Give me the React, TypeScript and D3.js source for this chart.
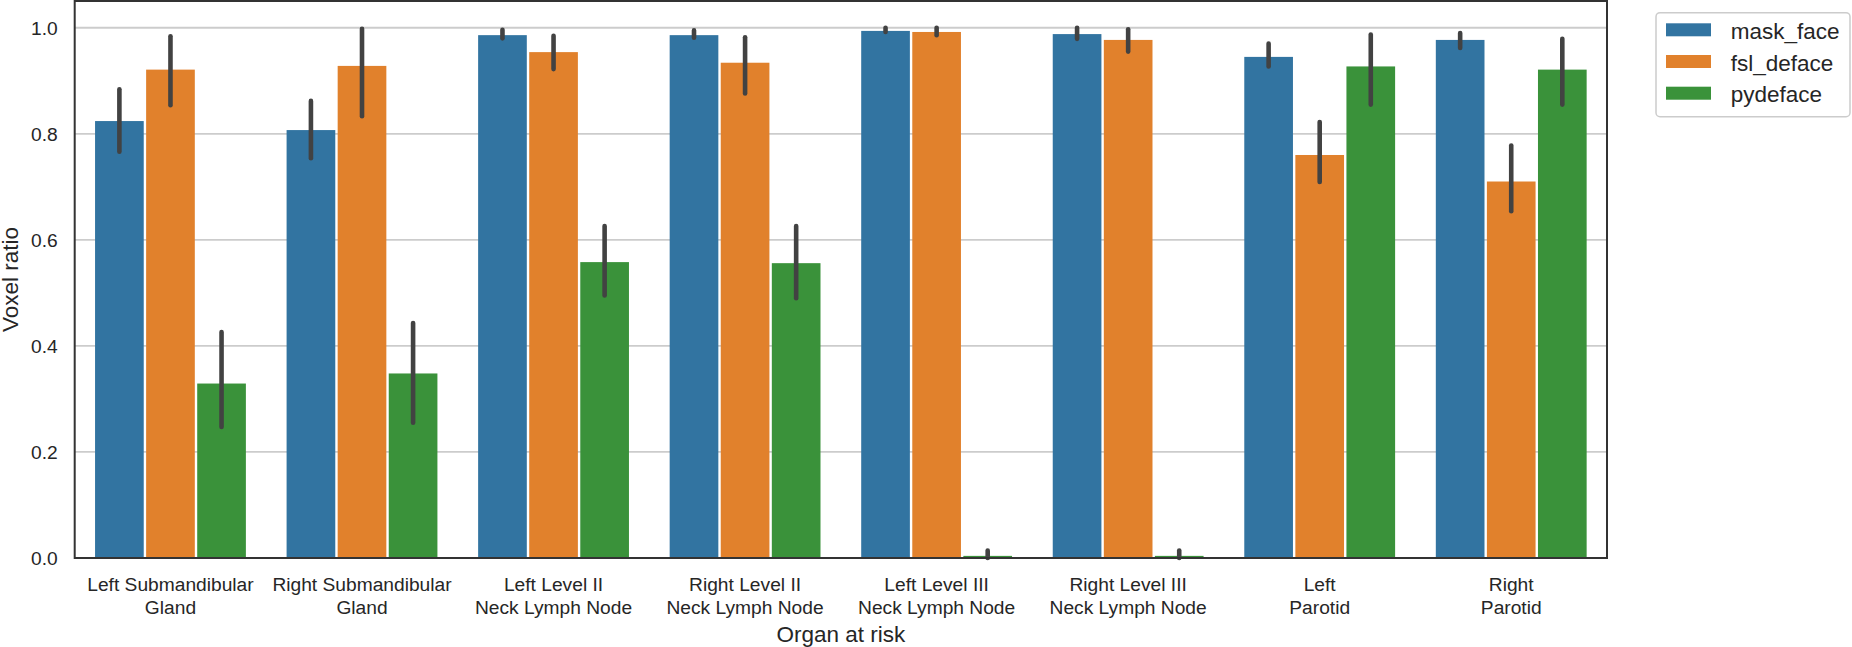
import React from "react";
import * as d3 from "d3";

const categories: string[][] = [
  ["Left Submandibular", "Gland"],
  ["Right Submandibular", "Gland"],
  ["Left Level II", "Neck Lymph Node"],
  ["Right Level II", "Neck Lymph Node"],
  ["Left Level III", "Neck Lymph Node"],
  ["Right Level III", "Neck Lymph Node"],
  ["Left", "Parotid"],
  ["Right", "Parotid"],
];

const seriesNames = ["mask_face", "fsl_deface", "pydeface"];
const seriesColors = ["#3274a1", "#e1812c", "#3a923a"];

const maskFace = [0.824, 0.807, 0.986, 0.986, 0.994, 0.988, 0.945, 0.977];
const maskFaceLo = [0.766, 0.754, 0.980, 0.981, 0.992, 0.979, 0.927, 0.962];
const maskFaceHi = [0.884, 0.862, 0.996, 0.995, 1.000, 1.000, 0.970, 0.990];

const fslDeface = [0.921, 0.928, 0.954, 0.934, 0.992, 0.977, 0.760, 0.710];
const fslDefaceLo = [0.854, 0.833, 0.922, 0.876, 0.986, 0.955, 0.709, 0.654];
const fslDefaceHi = [0.984, 0.998, 0.985, 0.982, 1.000, 0.997, 0.822, 0.778];

const pydeface = [0.329, 0.348, 0.558, 0.556, 0.004, 0.004, 0.927, 0.921];
const pydefaceLo = [0.247, 0.255, 0.495, 0.490, 0.000, 0.000, 0.855, 0.855];
const pydefaceHi = [0.426, 0.443, 0.626, 0.626, 0.014, 0.014, 0.987, 0.979];

const yTicks = [0.0, 0.2, 0.4, 0.6, 0.8, 1.0];

const values = [maskFace, fslDeface, pydeface];
const lows = [maskFaceLo, fslDefaceLo, pydefaceLo];
const highs = [maskFaceHi, fslDefaceHi, pydefaceHi];

const W = 1852;
const H = 647;
const left = 74.7;
const right = 1607;
const top = 1;
const bottom = 558;

export default function App() {
  const x = d3
    .scaleBand<number>()
    .domain(d3.range(categories.length))
    .range([left, right])
    .paddingInner(0)
    .paddingOuter(0);
  const bw = x.bandwidth();
  const xh = d3
    .scaleBand<number>()
    .domain(d3.range(seriesNames.length))
    .range([0.1 * bw, 0.9 * bw])
    .padding(0);
  const y = d3.scaleLinear().domain([0, 1.0504]).range([bottom, top]);

  const font = "'Liberation Sans', Arial, sans-serif";
  const textColor = "#262626";
  const inset = 1.2;

  return (
    <svg
      width={W}
      height={H}
      style={{ position: "absolute", left: 0, top: 0, background: "#fff" }}
      fontFamily={font}
    >
      <rect x={0} y={0} width={W} height={H} fill="#fff" />
      {/* gridlines */}
      {yTicks.map((t) => (
        <line
          key={"g" + t}
          x1={left}
          x2={right}
          y1={y(t)}
          y2={y(t)}
          stroke="#cccccc"
          strokeWidth={1.8}
        />
      ))}
      {/* bars */}
      {values.map((vals, s) =>
        vals.map((v, i) => {
          const bx = (x(i) as number) + (xh(s) as number) + inset;
          const h = Math.max(y(0) - y(v), 1.6);
          return (
            <rect
              key={"b" + s + "-" + i}
              x={bx}
              y={y(0) - h}
              width={xh.bandwidth() - 2 * inset}
              height={h}
              fill={seriesColors[s]}
            />
          );
        })
      )}
      {/* error bars */}
      {values.map((vals, s) =>
        vals.map((_, i) => {
          const cx = (x(i) as number) + (xh(s) as number) + xh.bandwidth() / 2;
          return (
            <line
              key={"e" + s + "-" + i}
              x1={cx}
              x2={cx}
              y1={y(lows[s][i])}
              y2={y(highs[s][i])}
              stroke="#424242"
              strokeWidth={4.6}
              strokeLinecap="round"
            />
          );
        })
      )}
      {/* spines */}
      <rect
        x={left}
        y={top}
        width={right - left}
        height={bottom - top}
        fill="none"
        stroke="#333333"
        strokeWidth={2}
      />
      {/* y tick labels */}
      {yTicks.map((t) => (
        <text
          key={"yt" + t}
          x={57.7}
          y={y(t) + 6.9}
          textAnchor="end"
          fontSize={19.2}
          fill={textColor}
        >
          {d3.format(".1f")(t)}
        </text>
      ))}
      {/* x tick labels */}
      {categories.map((lines, i) => (
        <text
          key={"xt" + i}
          textAnchor="middle"
          fontSize={19.2}
          fill={textColor}
        >
          {lines.map((ln, k) => (
            <tspan
              key={k}
              x={(x(i) as number) + bw / 2}
              y={590.5 + k * 23}
            >
              {ln}
            </tspan>
          ))}
        </text>
      ))}
      {/* axis labels */}
      <text
        x={(left + right) / 2}
        y={642}
        textAnchor="middle"
        fontSize={22.5}
        fill={textColor}
      >
        Organ at risk
      </text>
      <text
        transform={`translate(18, ${(top + bottom) / 2}) rotate(-90)`}
        textAnchor="middle"
        fontSize={22.5}
        fill={textColor}
      >
        Voxel ratio
      </text>
      {/* legend */}
      <rect
        x={1656}
        y={12.7}
        width={194}
        height={104}
        rx={4}
        ry={4}
        fill="#ffffff"
        stroke="#cccccc"
        strokeWidth={1.5}
      />
      {seriesNames.map((n, s) => (
        <g key={"l" + s}>
          <rect
            x={1666}
            y={23.3 + s * 31.7}
            width={45}
            height={13}
            fill={seriesColors[s]}
          />
          <text x={1730.7} y={39 + s * 31.5} fontSize={22.5} fill={textColor}>
            {n}
          </text>
        </g>
      ))}
    </svg>
  );
}
